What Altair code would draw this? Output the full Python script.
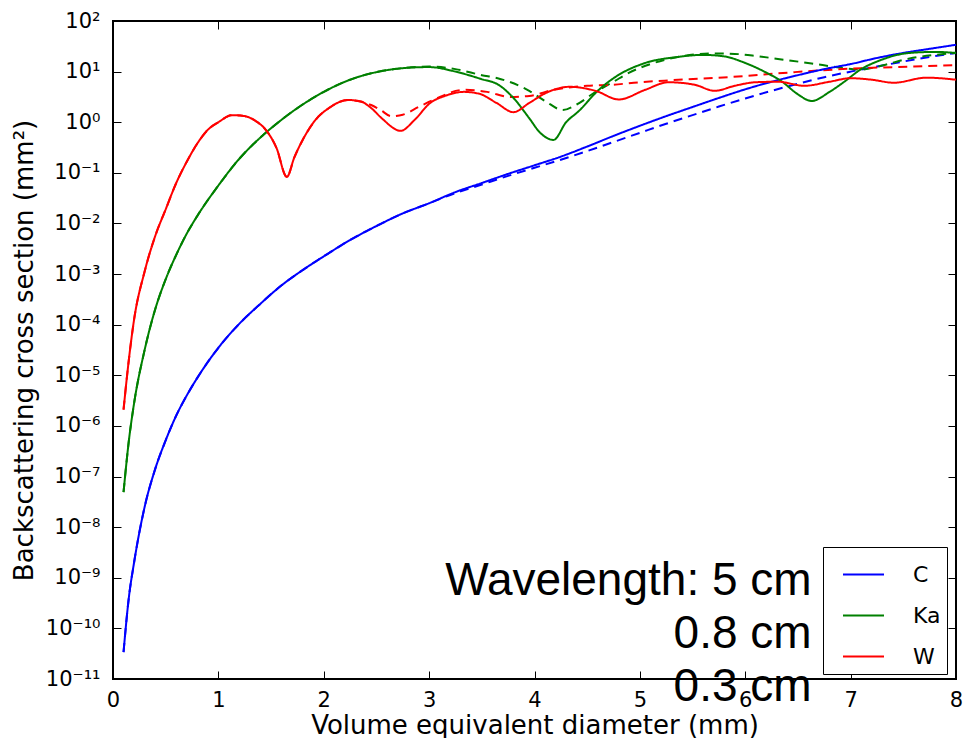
import altair as alt
import pandas as pd

# ---------------- data ----------------
# C band (5 cm)
c_x = [0.1, 0.15, 0.2, 0.3, 0.4, 0.5, 0.6, 0.7, 0.8, 1.0, 1.2, 1.4, 1.6, 1.8, 2.0,
       2.25, 2.5, 2.75, 3.0, 3.25, 3.5, 3.75, 4.0, 4.25, 4.5, 4.75, 5.0, 5.25, 5.5,
       5.75, 6.0, 6.25, 6.5, 6.75, 7.0, 7.25, 7.5, 7.75, 8.0]
c_solid = [3.4e-11, 4.0e-10, 2.0e-9, 2.5e-8, 1.4e-7, 5.2e-7, 1.6e-6, 4.0e-6, 8.9e-6,
           3.5e-5, 1.05e-4, 2.6e-4, 6.0e-4, 1.2e-3, 2.24e-3, 4.7e-3, 8.9e-3, 0.0158,
           0.0251, 0.0417, 0.063, 0.0955, 0.141, 0.209, 0.331, 0.537, 0.851, 1.32, 2.0,
           3.02, 4.47, 6.31, 8.51, 11.2, 14.1, 18.6, 23.4, 28.2, 33.9]
c_dash = [3.4e-11, 4.0e-10, 2.0e-9, 2.5e-8, 1.4e-7, 5.2e-7, 1.6e-6, 4.0e-6, 8.9e-6,
          3.5e-5, 1.05e-4, 2.6e-4, 6.0e-4, 1.2e-3, 2.24e-3, 4.7e-3, 8.9e-3, 0.0158,
          0.0251, 0.0398, 0.0589, 0.0871, 0.126, 0.182, 0.269, 0.407, 0.617, 0.933, 1.38,
          2.04, 2.95, 4.17, 5.75, 7.76, 10.0, 12.6, 15.8, 19.5, 23.4]

# Ka band (0.8 cm)
ka_x = [0.1, 0.15, 0.2, 0.3, 0.4, 0.5, 0.6, 0.7, 0.8, 1.0, 1.2, 1.4, 1.6, 1.8, 2.0,
        2.25, 2.5, 2.75, 3.0, 3.25, 3.5, 3.65, 3.8, 3.95, 4.05, 4.18, 4.3, 4.42, 4.6,
        4.75, 5.05, 5.36, 5.6, 5.8, 6.0, 6.2, 6.35, 6.5, 6.63, 6.8, 6.94, 7.1, 7.25,
        7.56, 7.8, 8.0]
ka_solid = [4.9e-8, 5.0e-7, 2.8e-6, 3.16e-5, 2.0e-4, 7.9e-4, 2.4e-3, 6.3e-3, 0.0141,
            0.0562, 0.191, 0.501, 1.12, 2.24, 3.98, 6.92, 9.77, 11.7, 12.3, 10.0, 7.08,
            5.62, 3.02, 1.20, 0.631, 0.447, 1.0, 1.66, 4.17, 7.41, 14.8, 19.5, 21.4, 20.0,
            14.8, 9.55, 6.31, 3.55, 2.63, 3.98, 6.31, 11.2, 15.8, 23.4, 24.5, 23.4]
ka_dash_x = [0.1, 0.15, 0.2, 0.3, 0.4, 0.5, 0.6, 0.7, 0.8, 1.0, 1.2, 1.4, 1.6, 1.8,
             2.0, 2.25, 2.5, 2.75, 3.0, 3.25, 3.5, 3.65, 3.95, 4.1, 4.27, 4.4, 4.58,
             4.75, 4.89, 5.1, 5.36, 5.68, 5.9, 6.1, 6.31, 6.63, 6.9, 7.1, 7.3, 7.56,
             7.8, 8.0]
ka_dash = [4.9e-8, 5.0e-7, 2.8e-6, 3.16e-5, 2.0e-4, 7.9e-4, 2.4e-3, 6.3e-3, 0.0141,
           0.0562, 0.191, 0.501, 1.12, 2.24, 3.98, 6.92, 9.77, 11.7, 12.6, 11.2, 8.51,
           7.41, 4.17, 2.63, 1.74, 2.24, 3.98, 6.31, 9.33, 14.1, 19.5, 22.9, 22.4, 20.4,
           17.8, 14.5, 12.0, 11.0, 13.2, 18.2, 21.4, 23.4]

# W band (0.3 cm)
w_x = [0.1, 0.15, 0.2, 0.3, 0.4, 0.5, 0.6, 0.7, 0.8, 0.9, 1.0, 1.13, 1.25, 1.35, 1.45,
       1.55, 1.65, 1.72, 1.8, 1.92, 2.05, 2.23, 2.35, 2.45, 2.55, 2.73, 2.86, 3.01,
       3.15, 3.33, 3.48, 3.64, 3.8, 3.95, 4.11, 4.33, 4.58, 4.8, 5.05, 5.27, 5.52,
       5.71, 5.9, 6.1, 6.31, 6.56, 6.8, 7.0, 7.2, 7.41, 7.72, 8.0]
w_solid = [2.1e-6, 2.0e-5, 1.26e-4, 1.12e-3, 5.6e-3, 0.019, 0.063, 0.166, 0.380, 0.708,
           1.0, 1.38, 1.32, 1.07, 0.708, 0.316, 0.0832, 0.2, 0.447, 1.10, 1.91, 2.75,
           2.57, 1.91, 1.20, 0.676, 1.10, 2.40, 3.31, 3.98, 3.63, 2.40, 1.58, 2.40, 3.80,
           5.01, 4.17, 2.82, 4.37, 6.17, 5.50, 4.17, 5.25, 6.17, 6.31, 5.25, 6.31, 7.41,
           6.92, 6.03, 7.59, 6.92]
w_dash_x = [0.1, 0.15, 0.2, 0.3, 0.4, 0.5, 0.6, 0.7, 0.8, 0.9, 1.0, 1.13, 1.25, 1.35,
            1.45, 1.55, 1.65, 1.72, 1.8, 1.92, 2.05, 2.23, 2.35, 2.45, 2.54, 2.64, 2.75,
            2.9, 3.05, 3.33, 3.55, 3.77, 3.95, 4.18, 4.5, 4.74, 5.0, 5.3, 5.84, 6.47,
            7.1, 7.6, 8.0]
w_dash = [2.1e-6, 2.0e-5, 1.26e-4, 1.12e-3, 5.6e-3, 0.019, 0.063, 0.166, 0.380, 0.708,
          1.0, 1.38, 1.32, 1.07, 0.708, 0.316, 0.0832, 0.2, 0.447, 1.10, 1.91, 2.75,
          2.57, 2.19, 1.74, 1.32, 1.41, 2.0, 2.82, 4.37, 3.98, 3.16, 3.31, 4.37, 5.25,
          5.50, 6.17, 6.76, 7.76, 9.77, 11.7, 12.6, 13.5]

bands = ["C", "Ka", "W"]
band_colors = ["#0000ff", "#008000", "#ff0000"]

ann_label = ["Wavelength: 5 cm", "0.8 cm", "0.3 cm"]
ann_x = [6.63, 6.63, 6.63]
ann_y = [4.5e-10, 4.1e-11, 3.6e-12]

x_ticks = [0, 1, 2, 3, 4, 5, 6, 7, 8]
y_ticks = [1e-11, 1e-10, 1e-9, 1e-8, 1e-7, 1e-6, 1e-5, 1e-4, 1e-3, 1e-2, 1e-1, 1e0, 1e1, 1e2]
y_tick_text = ["10⁻¹¹", "10⁻¹⁰", "10⁻⁹", "10⁻⁸", "10⁻⁷", "10⁻⁶", "10⁻⁵", "10⁻⁴",
               "10⁻³", "10⁻²", "10⁻¹", "10⁰", "10¹", "10²"]

# ---------------- build table ----------------
rows = []
for band, style, xs, ys in [
    ("C", "dashed", c_x, c_dash), ("Ka", "dashed", ka_dash_x, ka_dash), ("W", "dashed", w_dash_x, w_dash),
    ("C", "solid", c_x, c_solid), ("Ka", "solid", ka_x, ka_solid), ("W", "solid", w_x, w_solid),
]:
    for xv, yv in zip(xs, ys):
        rows.append({"band": band, "style": style, "d": xv, "sigma": yv})
df = pd.DataFrame(rows)

ann = pd.DataFrame({"label": ann_label, "d": ann_x, "sigma": ann_y})

label_expr = "[" + ",".join("'" + t + "'" for t in y_tick_text) + "][round(log(datum.value)/LN10)+11]"

xscale = alt.Scale(domain=[0, 8], nice=False, zero=False)
yscale = alt.Scale(type="log", domain=[1e-11, 1e2], nice=False)

common_axis = dict(offset=-8, tickSize=8, domain=False, grid=False, tickColor="black",
                   tickWidth=1, labelColor="black", titleColor="black",
                   labelFont="DejaVu Sans", titleFont="DejaVu Sans", labelFontSize=21,
                   titleFontSize=26, titleFontWeight="normal")

lines = alt.Chart(df).mark_line(strokeWidth=2, interpolate="monotone").encode(
    x=alt.X("d:Q", scale=xscale,
            axis=alt.Axis(orient="bottom", values=x_ticks, format="d", labelPadding=10,
                          title="Volume equivalent diameter (mm)", titlePadding=2,
                          labelFlush=False, **common_axis)),
    y=alt.Y("sigma:Q", scale=yscale,
            axis=alt.Axis(orient="left", values=y_ticks, labelExpr=label_expr, labelPadding=13,
                          title="Backscattering cross section (mm²)", titlePadding=8,
                          **common_axis)),
    color=alt.Color("band:N", scale=alt.Scale(domain=bands, range=band_colors),
                    legend=alt.Legend(title=None, orient="none", legendX=710, legendY=526,
                                      direction="vertical", symbolType="stroke",
                                      symbolSize=1681, symbolStrokeWidth=2,
                                      labelFont="DejaVu Sans", labelFontSize=22,
                                      labelColor="black", labelOffset=28, symbolOffset=13,
                                      rowPadding=8, padding=6, strokeColor="black",
                                      fillColor="white")),
    strokeDash=alt.StrokeDash("style:N",
                              scale=alt.Scale(domain=["solid", "dashed"], range=[[1, 0], [9, 6]]),
                              legend=None),
    order=alt.Order("d:Q"),
)

frame_axes = alt.Chart(ann).mark_point(opacity=0).encode(
    x=alt.X("d:Q", scale=xscale,
            axis=alt.Axis(orient="top", values=x_ticks, labels=False, title=None, **common_axis)),
    y=alt.Y("sigma:Q", scale=yscale,
            axis=alt.Axis(orient="right", values=y_ticks, labels=False, title=None, **common_axis)),
)

text = alt.Chart(ann).mark_text(align="right", baseline="alphabetic", font="Liberation Sans",
                                fontSize=46, color="black").encode(
    x=alt.X("d:Q", scale=xscale, axis=None),
    y=alt.Y("sigma:Q", scale=yscale, axis=None),
    text="label:N",
)

chart = alt.layer(lines, frame_axes, text).resolve_axis(
    x="independent", y="independent"
).properties(
    width=843, height=658,
    autosize=alt.AutoSizeParams(type="none"),
    padding={"left": 105, "top": 13, "right": 7, "bottom": 59},
    background="white",
).configure_view(stroke="black", strokeWidth=2)

chart.save("out.html", embed_options={"renderer": "svg", "actions": False})
